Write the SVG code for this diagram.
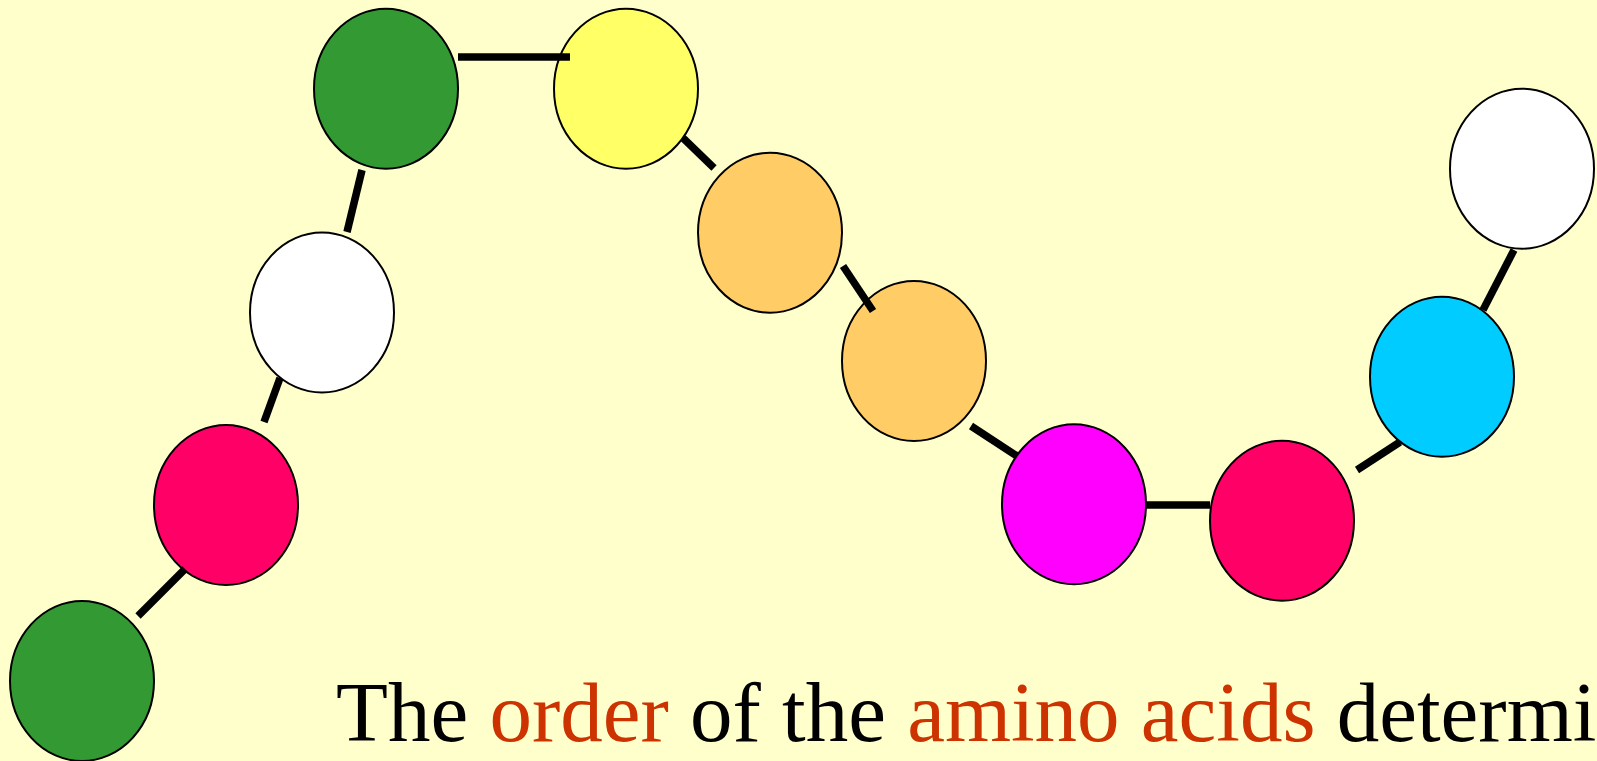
<svg xmlns="http://www.w3.org/2000/svg" width="1597" height="761" viewBox="0 0 1597 761">
<style>
.n{stroke:#000;stroke-width:2}
.c line{stroke:#000;stroke-width:7.5}
.t{font-family:"Liberation Serif","Times New Roman",serif;font-size:85px}
.hl{fill:#CC3300}
</style>
<rect width="1597" height="761" fill="#FFFFCC"/>
<g id="aa1"><ellipse class="n" cx="82" cy="681" rx="72" ry="80" fill="#339933"/></g>
<g id="aa2"><ellipse class="n" cx="226" cy="505" rx="72" ry="80" fill="#FF0066"/></g>
<g id="aa3"><ellipse class="n" cx="322" cy="312.5" rx="72" ry="80" fill="#FFFFFF"/></g>
<g id="aa4"><ellipse class="n" cx="386" cy="88.7" rx="72" ry="80" fill="#339933"/></g>
<g id="aa5"><ellipse class="n" cx="626" cy="88.7" rx="72" ry="80" fill="#FFFF66"/></g>
<g id="aa6"><ellipse class="n" cx="770" cy="232.7" rx="72" ry="80" fill="#FFCC66"/></g>
<g id="aa7"><ellipse class="n" cx="914" cy="361" rx="72" ry="80" fill="#FFCC66"/></g>
<g id="aa8"><ellipse class="n" cx="1074" cy="504.3" rx="72" ry="80" fill="#FF00FF"/></g>
<g id="aa9"><ellipse class="n" cx="1282" cy="520.7" rx="72" ry="80" fill="#FF0066"/></g>
<g id="aa10"><ellipse class="n" cx="1442" cy="376.7" rx="72" ry="80" fill="#00CCFF"/></g>
<g id="aa11"><ellipse class="n" cx="1522" cy="168.7" rx="72" ry="80" fill="#FFFFFF"/></g>
<g id="connectors" class="c">
<line x1="138" y1="616" x2="185" y2="569"/>
<line x1="264" y1="422" x2="280" y2="378"/>
<line x1="347" y1="232" x2="362" y2="170"/>
<line x1="458" y1="57" x2="570" y2="57"/>
<line x1="683" y1="138" x2="714" y2="168"/>
<line x1="843" y1="266" x2="873" y2="311"/>
<line x1="971" y1="426" x2="1017" y2="456"/>
<line x1="1146" y1="505" x2="1210" y2="505"/>
<line x1="1357" y1="470" x2="1400" y2="442"/>
<line x1="1483" y1="310" x2="1514" y2="250"/>
</g>
<text class="t" x="336" y="741">The <tspan class="hl">order</tspan> of the <tspan class="hl">amino acids</tspan> determi</text>
</svg>
